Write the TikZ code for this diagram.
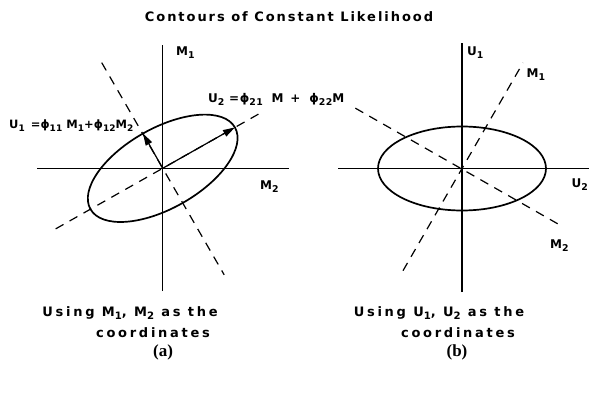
\documentclass[tikz,border=0pt]{standalone}
\usepackage{graphicx}
\usepackage{fontspec}
\setmainfont{DejaVu Sans}[LetterSpace=12]
\newfontfamily\titlefont{DejaVu Sans}[LetterSpace=15]
\newfontfamily\captionfont{DejaVu Sans}[LetterSpace=21]
\newfontfamily\eqfont{DejaVu Sans}[LetterSpace=5]
\newfontfamily\eqfontb{DejaVu Sans}[LetterSpace=1]
\newfontfamily\tagfont{Liberation Serif}
\usetikzlibrary{arrows.meta,calc}
\newcommand{\lsub}[1]{\raisebox{-0.5ex}{\scalebox{0.78}{#1}}}
\begin{document}
\begin{tikzpicture}[x=1pt,y=1pt,
  axisline/.style={line width=1.2pt},
  contour/.style={line width=1.7pt},
  dashline/.style={line width=1.2pt, dash pattern=on 9pt off 7pt},
  vec/.style={line width=1.2pt, -{Triangle[length=12pt,width=7pt]}},
  lbl/.style={font=\bfseries\fontsize{12}{15}\selectfont, inner sep=0pt},
  eqtext/.style={font=\eqfont\bfseries\fontsize{12}{15}\selectfont, inner sep=0pt},
  eqtextb/.style={font=\eqfontb\bfseries\fontsize{11.5}{15}\selectfont, inner sep=0pt},
  captext/.style={font=\captionfont\bfseries\fontsize{13}{15}\selectfont, inner sep=0pt},
  tagtext/.style={font=\tagfont\bfseries\fontsize{17}{19}\selectfont, inner sep=0pt},
  titlestyle/.style={font=\titlefont\bfseries\fontsize{13}{15}\selectfont, inner sep=0pt}]
\useasboundingbox (0,0) rectangle (589,392);
\fill[white] (0,0) rectangle (589,392);

% title
\node[titlestyle] (title) at (289,375) {Contours of Constant Likelihood};

% ---------- left panel ----------
\coordinate (OL) at (162.7,223.7);
\coordinate (LVt) at (162.7,347);
\coordinate (LVb) at (162.7,101);
\coordinate (LHl) at (37,223.7);
\coordinate (LHr) at (289,223.7);
\draw[axisline] (LVb) -- (LVt);
\draw[axisline] (LHl) -- (LHr);
\draw[contour, rotate around={29.5:(OL)}] (OL) ellipse [x radius=83, y radius=40];
\coordinate (LU2a) at ($(OL)+(209.5:123)$);
\coordinate (LU2b) at ($(OL)+(29.5:110)$);
\coordinate (LU1a) at ($(OL)+(120:122)$);
\coordinate (LU1b) at ($(OL)+(-60:123)$);
\draw[dashline] (LU2a) -- (LU2b);
\draw[dashline] (LU1a) -- (LU1b);
\coordinate (LU2tip) at ($(OL)+(29.5:83)$);
\coordinate (LU1tip) at ($(OL)+(119.5:40)$);
\draw[vec] (OL) -- (LU2tip);
\draw[vec] (OL) -- (LU1tip);

\node[lbl, anchor=base west] (lM1) at (176,337) {M\lsub{1}};
\node[lbl, anchor=base west] (lM2) at (260,203) {M\lsub{2}};
\node[eqtextb, anchor=base west] (eqU1) at (9,263.7) {U\lsub{1}\ \,=ϕ\lsub{11} M\lsub{1}+ϕ\lsub{12}M\lsub{2}};
\node[eqtext, anchor=base west] (eqU2) at (208,289.5) {U\lsub{2} =ϕ\lsub{21}\ \hspace{4pt}M\ \hspace{2pt}+\ \hspace{4pt}ϕ\lsub{22}M};

% ---------- right panel ----------
\coordinate (OR) at (462,223.5);
\coordinate (RVt) at (462,349);
\coordinate (RVb) at (462,100);
\coordinate (RHl) at (338,223.5);
\coordinate (RHr) at (589,223.5);
\draw[axisline] (RVb) -- (RVt);
\draw[axisline] (RHl) -- (RHr);
\draw[contour] (OR) ellipse [x radius=84, y radius=42];
\coordinate (RM1a) at ($(OR)+(240:118)$);
\coordinate (RM1b) at ($(OR)+(60:122)$);
\coordinate (RM2a) at ($(OR)+(150.5:122.5)$);
\coordinate (RM2b) at ($(OR)+(-30:116.5)$);
\draw[dashline] (RM1a) -- (RM1b);
\draw[dashline] (RM2a) -- (RM2b);

\node[lbl, anchor=base west] (rU1) at (467,337) {U\lsub{1}};
\node[lbl, anchor=base west] (rM1) at (526.5,315) {M\lsub{1}};
\node[lbl, anchor=base west] (rU2) at (571.5,205) {U\lsub{2}};
\node[lbl, anchor=base west] (rM2) at (550,144) {M\lsub{2}};

% ---------- captions ----------
\node[captext] (capA1) at (130,79) {Using M\lsub{1}, M\lsub{2} as the};
\node[captext] (capA2) at (153,59) {coordinates};
\node[tagtext] (tagA) at (163,40) {(a)};
\node[captext] (capB1) at (439,79) {Using U\lsub{1}, U\lsub{2} as the};
\node[captext] (capB2) at (458,59) {coordinates};
\node[tagtext] (tagB) at (457,40) {(b)};
\end{tikzpicture}
\end{document}
